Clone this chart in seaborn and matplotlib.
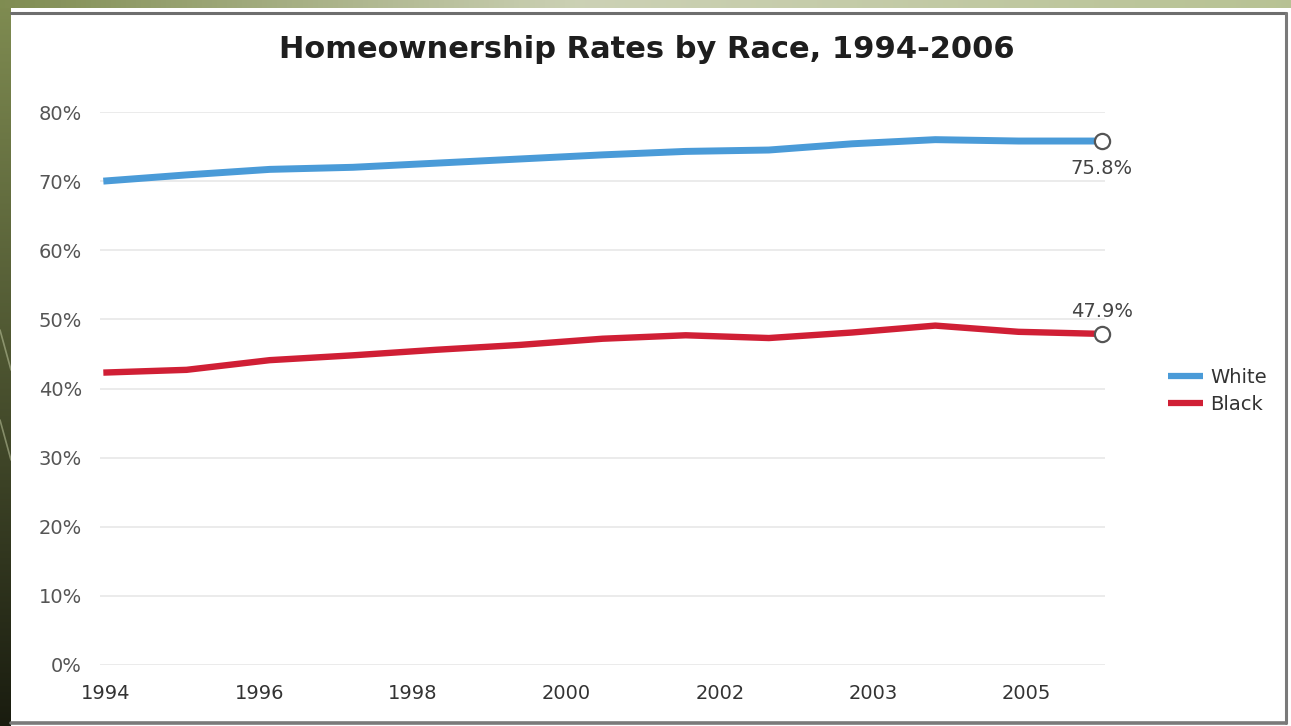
import numpy as np
import pandas as pd
import matplotlib
matplotlib.use("Agg")
import matplotlib.pyplot as plt
from matplotlib.patches import Rectangle
import seaborn as sns

# Homeownership rates (%) by race of householder
years = [1994, 1995, 1996, 1997, 1998, 1999, 2000, 2001, 2002, 2003, 2004, 2005, 2006]
white_rate = [70.0, 70.9, 71.7, 72.0, 72.6, 73.2, 73.8, 74.3, 74.5, 75.4, 76.0, 75.8, 75.8]
black_rate = [42.3, 42.7, 44.1, 44.8, 45.6, 46.3, 47.2, 47.7, 47.3, 48.1, 49.1, 48.2, 47.9]
series_names = ["White", "Black"]
x_tick_labels = ["1994", "1996", "1998", "2000", "2002", "2003", "2005"]
y_ticks = [0, 10, 20, 30, 40, 50, 60, 70, 80]
title = "Homeownership Rates by Race, 1994-2006"

colors = {"White": "#4a9bd8", "Black": "#d01f35"}

df = pd.DataFrame({
    "year": years * 2,
    "rate": white_rate + black_rate,
    "race": [series_names[0]] * len(years) + [series_names[1]] * len(years),
})

sns.set_theme(style="white")
plt.rcParams["font.family"] = ["DejaVu Sans"]

W, H = 1291, 726
fig = plt.figure(figsize=(W / 100, H / 100), dpi=100)

# ---- slide backdrop: olive frame and white panel ----
bg = fig.add_axes([0, 0, 1, 1])
bg.set_xlim(0, W)
bg.set_ylim(H, 0)
bg.axis("off")

# left strip: olive fading to near-black downward
left_grad = np.linspace(0, 1, 256)[:, None]
top_c = np.array([0.50, 0.55, 0.32])
bot_c = np.array([0.10, 0.11, 0.06])
left_img = top_c[None, None, :] * (1 - left_grad[..., None]) + bot_c[None, None, :] * left_grad[..., None]
bg.imshow(left_img, extent=(0, 11, H, 0), aspect="auto", zorder=0)

# top strip: olive at left, pale sage across
top_grad = np.linspace(0, 1, 256)[None, :]
c0 = np.array([0.50, 0.55, 0.32])
c1 = np.array([0.80, 0.82, 0.71])
c2 = np.array([0.72, 0.76, 0.58])
t = top_grad[..., None]
top_img = np.where(t < 0.45, c0 * (1 - t / 0.45) + c1 * (t / 0.45),
                   c1 * (1 - (t - 0.45) / 0.55) + c2 * ((t - 0.45) / 0.55))
bg.imshow(top_img, extent=(0, W, 8, 0), aspect="auto", zorder=0)

# faint streaks on the left strip
for y0 in (330, 420):
    bg.plot([0, 11], [y0, y0 + 40], color="#c8d0a8", lw=1.2, alpha=0.5, zorder=1)

bg.add_patch(Rectangle((11, 8), W - 11, H - 8, facecolor="white", edgecolor="none", zorder=1))
bg.plot([11, 1286], [13, 13], color="#6e6e6e", lw=2.2, zorder=2)
bg.plot([1286, 1286], [13, 723], color="#7a7a7a", lw=2.2, zorder=2)
bg.plot([11, 1286], [723, 723], color="#7a7a7a", lw=2.6, zorder=2)

# ---- chart axes ----
ax_left, ax_right = 100 / W, 1105 / W
ax_bottom, ax_top = (H - 665) / H, (H - 112) / H
ax = fig.add_axes([ax_left, ax_bottom, ax_right - ax_left, ax_top - ax_bottom])
ax.set_facecolor("none")

sns.lineplot(data=df, x="year", y="rate", hue="race", palette=colors,
             linewidth=5, ax=ax, legend=False, zorder=3)
for line, name in zip(ax.get_lines(), series_names):
    line.set_solid_capstyle("butt")
    line.set_label(name)
ax.get_lines()[1].set_linewidth(4.6)

# hollow markers on the final year
last = df[df["year"] == years[-1]]
ax.scatter(last["year"], last["rate"], s=120, facecolor="white",
           edgecolor="#555555", linewidth=1.6, zorder=5, clip_on=False)

# end-value labels
ax.annotate(f"{white_rate[-1]:.1f}%", (years[-1], white_rate[-1]), xytext=(0, -20),
            textcoords="offset points", ha="center", va="center",
            fontsize=14, color="#444444")
ax.annotate(f"{black_rate[-1]:.1f}%", (years[-1], black_rate[-1]), xytext=(0, 16),
            textcoords="offset points", ha="center", va="center",
            fontsize=14, color="#444444")

ax.set_xlim(years[0] - 0.04, years[-1] + 0.04)
ax.set_ylim(0, 80)
ax.set_yticks(y_ticks)
ax.set_yticklabels([f"{v}%" for v in y_ticks])
ax.set_xticks(np.linspace(years[0] + 0.03, years[0] + 11.1, len(x_tick_labels)))
ax.set_xticklabels(x_tick_labels)
ax.tick_params(axis="y", length=0, pad=13, labelsize=14, labelcolor="#555555")
ax.tick_params(axis="x", length=0, pad=14, labelsize=14, labelcolor="#333333")
ax.yaxis.grid(True, color="#e8e8e8", linewidth=1.2)
ax.xaxis.grid(False)
for s in ax.spines.values():
    s.set_visible(False)
ax.set_xlabel("")
ax.set_ylabel("")

fig.text(647 / W, (H - 49) / H, title, ha="center", va="center",
         fontsize=22, fontweight="bold", color="#1e1e1e")

fig.legend(handles=ax.get_lines()[:2], labels=series_names,
           loc="center left", bbox_to_anchor=(1150 / W, (H - 391) / H),
           frameon=False, fontsize=14, handlelength=1.8, handletextpad=0.4,
           labelspacing=0.4, labelcolor="#333333")
for h in fig.legends[0].get_lines():
    h.set_linewidth(4.5)

fig.savefig("out.png", dpi=100)
